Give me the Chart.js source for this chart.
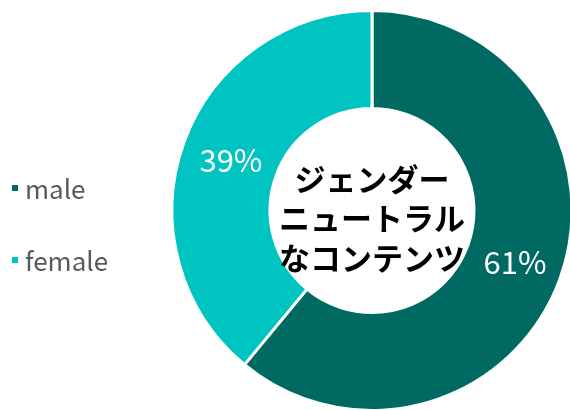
<!DOCTYPE html>
<html>
<head>
<meta charset="utf-8">
<script src="https://cdn.jsdelivr.net/npm/chart.js@4"></script>
<style>
  html, body { margin: 0; padding: 0; background: #ffffff; overflow: hidden; }
  #wrap { position: relative; width: 570px; height: 410px; overflow: hidden; }
</style>
</head>
<body>
<div id="wrap"><canvas id="c" width="574" height="412"></canvas></div>
<script>
const categories = ['male', 'female'];
const values = [61, 39];
const valueLabels = ['61%', '39%'];
const colors = ['#006962', '#00c4c1'];
const centerLines = ['ジェンダー', 'ニュートラル', 'なコンテンツ'];

const FONT = '"Noto Sans CJK JP", "Noto Sans", sans-serif';

const labelPlugin = {
  id: 'labels',
  afterDatasetsDraw(chart) {
    const ctx = chart.ctx;
    const meta = chart.getDatasetMeta(0);
    ctx.save();
    ctx.fillStyle = '#ffffff';
    ctx.font = '31px ' + FONT;
    ctx.textAlign = 'center';
    ctx.textBaseline = 'middle';
    meta.data.forEach((arc, i) => {
      const p = arc.tooltipPosition();
      ctx.fillText(valueLabels[i], p.x + 1, p.y + 1);
    });
    // center text
    const c = meta.data[0];
    ctx.fillStyle = '#000000';
    ctx.font = 'bold 31px ' + FONT;
    const lh = 39.5;
    centerLines.forEach((t, i) => {
      ctx.fillText(t, c.x, c.y + 8 + (i - 1) * lh);
    });
    // legend
    ctx.font = '26px ' + FONT;
    ctx.textAlign = 'left';
    const ys = [188, 260];
    categories.forEach((name, i) => {
      ctx.fillStyle = colors[i];
      ctx.fillRect(12, ys[i] - 3, 6, 6);
      ctx.fillStyle = '#595959';
      ctx.fillText(name, 25, ys[i] + 1);
    });
    ctx.restore();
  }
};

new Chart(document.getElementById('c'), {
  type: 'doughnut',
  data: {
    labels: categories,
    datasets: [{
      data: values,
      backgroundColor: colors,
      borderColor: '#ffffff',
      borderWidth: 3
    }]
  },
  options: {
    responsive: false,
    animation: false,
    cutout: '51%',
    layout: { padding: { left: 170, right: 0, top: 9, bottom: 0 } },
    plugins: {
      legend: { display: false },
      tooltip: { enabled: false }
    }
  },
  plugins: [labelPlugin]
});
</script>
</body>
</html>
